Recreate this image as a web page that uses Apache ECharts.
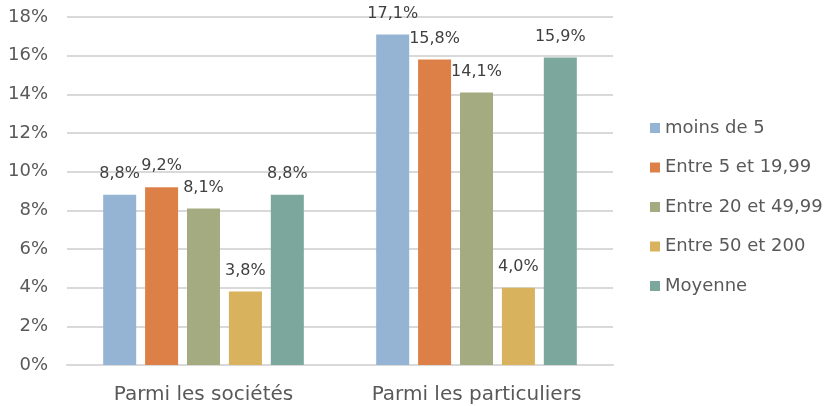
<!DOCTYPE html>
<html>
<head>
<meta charset="utf-8">
<script src="https://cdn.jsdelivr.net/npm/echarts@6/dist/echarts.min.js"></script>
<style>
  html, body { margin: 0; padding: 0; background: #fff; }
  #main { width: 827px; height: 406px; }
</style>
</head>
<body>
<div id="main"></div>
<script>
var categories = ['Parmi les sociétés', 'Parmi les particuliers'];
var seriesNames = ['moins de 5', 'Entre 5 et 19,99', 'Entre 20 et 49,99', 'Entre 50 et 200', 'Moyenne'];
var moinsDe5 = [8.8, 17.1];
var entre5 = [9.2, 15.8];
var entre20 = [8.1, 14.1];
var entre50 = [3.8, 4.0];
var moyenne = [8.8, 15.9];
var colors = ['#95b3d3', '#dd8047', '#a5ab81', '#d8b25c', '#7ba79d'];

var values = [moinsDe5, entre5, entre20, entre50, moyenne];
var font = 'DejaVu Sans';

var series = seriesNames.map(function (name, i) {
    return {
        name: name,
        type: 'bar',
        data: values[i],
        barWidth: 33,
        barGap: '27%',
        itemStyle: { color: colors[i] },
        label: {
            show: true,
            position: 'top',
            distance: 13,
            color: '#404040',
            fontFamily: font,
            fontSize: 16,
            formatter: function (p) {
                return p.value.toFixed(1).replace('.', ',') + '%';
            }
        }
    };
});

var option = {
    animation: false,
    color: colors,
    grid: { left: 67, right: 214, top: 17, bottom: 41 },
    legend: {
        orient: 'vertical',
        left: 645,
        top: 114,
        itemWidth: 10,
        itemHeight: 10,
        itemGap: 21.5,
        icon: 'rect',
        textStyle: { color: '#595959', fontFamily: font, fontSize: 18 },
        data: seriesNames
    },
    xAxis: {
        type: 'category',
        data: categories,
        axisTick: { show: false },
        axisLine: { lineStyle: { color: '#d9d9d9', width: 2 } },
        axisLabel: { color: '#595959', fontFamily: font, fontSize: 20, margin: 20 }
    },
    yAxis: {
        type: 'value',
        min: 0,
        max: 18,
        interval: 2,
        axisLabel: {
            color: '#595959', fontFamily: font, fontSize: 18, margin: 19,
            formatter: '{value}%'
        },
        splitLine: { lineStyle: { color: '#d9d9d9', width: 2 } }
    },
    series: series
};

var myChart = echarts.init(document.getElementById('main'));
myChart.setOption(option);
</script>
</body>
</html>
